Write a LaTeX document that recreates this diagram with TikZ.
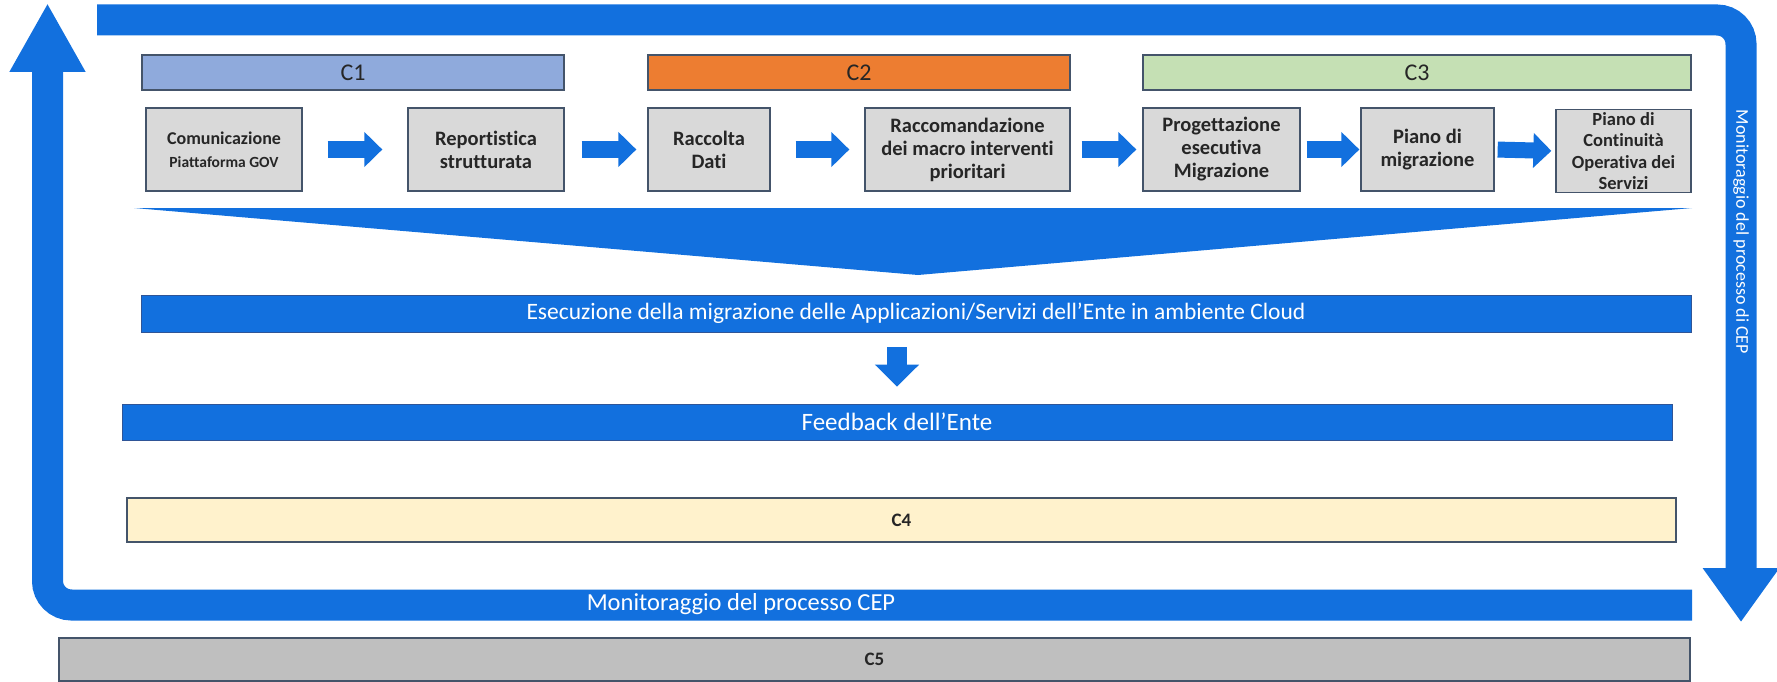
\documentclass[tikz,border=0pt]{standalone}
\usepackage{fontspec}
\setmainfont{Carlito}[Ligatures=NoCommon]
\usetikzlibrary{arrows.meta}
\definecolor{mblue}{RGB}{18,112,222}
\definecolor{mborder}{HTML}{44546A}
\definecolor{cone}{HTML}{8FAADC}
\definecolor{ctwo}{HTML}{ED7D31}
\definecolor{cthree}{HTML}{C5E0B4}
\definecolor{boxgray}{HTML}{D9D9D9}
\definecolor{cfour}{HTML}{FFF2CC}
\definecolor{cfive}{HTML}{BFBFBF}
\definecolor{bluedark}{HTML}{2F5597}
\definecolor{txt}{HTML}{262626}
\begin{document}
\begin{tikzpicture}[x=1pt,y=-1pt,
  stepbox/.style={draw=mborder, line width=1.3pt, fill=boxgray, inner sep=0pt, align=center,
    minimum height=83pt, text=txt, font=\fontsize{20.5}{23}\selectfont\bfseries},
  phasebar/.style={draw=mborder, line width=1.2pt, inner sep=0pt, minimum height=35pt,
    text=txt, font=\fontsize{24}{28}\selectfont},
  bluebar/.style={draw=bluedark, line width=0.8pt, fill=mblue, inner sep=0pt, text=white},
  flowarrow/.style={draw=mblue, line width=16pt, -{Triangle[width=34pt,length=18pt]}},
  looparrow/.style={draw=mblue, line width=31pt, rounded corners=24pt},
  graybar/.style={draw=mborder, line width=1.2pt, inner sep=0pt, text=txt,
    font=\fontsize{19}{22}\selectfont\bfseries},
]
\useasboundingbox (0,0) rectangle (1777,682);

% big monitoring loop
\draw[looparrow, -{Triangle[width=71pt,length=69pt]}] (1692,605) -- (47.5,605) -- (47.5,3);
\draw[looparrow, -{Triangle[width=73pt,length=54pt]}] (97,20) -- (1741,20) -- (1741,622);
\node[text=white, font=\fontsize{24.5}{28}\selectfont] (monb) at (741,604) {Monitoraggio del processo CEP};
\node[rotate=-90, text=white, font=\fontsize{18}{20}\selectfont] (monr) at (1741,232) {Monitoraggio del processo di CEP};

% phase bars
\node[phasebar, fill=cone, minimum width=422pt] (c1) at (353,72.5) {C1};
\node[phasebar, fill=ctwo, minimum width=422pt] (c2) at (859,72.5) {C2};
\node[phasebar, fill=cthree, minimum width=548pt] (c3) at (1417,72.5) {C3};

% steps
\node[stepbox, minimum width=156pt] (b1) at (224,149.5)
  {{\fontsize{18}{21}\selectfont Comunicazione}\\{\fontsize{15.5}{19}\selectfont Piattaforma GOV}};
\node[stepbox, minimum width=156pt] (b2) at (486,149.5) {Reportistica\\strutturata};
\node[stepbox, minimum width=122pt] (b3) at (709,149.5) {Raccolta\\Dati};
\node[stepbox, minimum width=205pt] (b4) at (967.5,149.5) {Raccomandazione\\dei macro interventi\\prioritari};
\node[stepbox, minimum width=157pt] (b5) at (1221.5,149.5) {Progettazione\\esecutiva\\Migrazione};
\node[stepbox, minimum width=133pt] (b6) at (1427.5,149.5) {Piano di\\migrazione};
\node[stepbox, minimum width=135pt, font=\fontsize{18.5}{21.5}\selectfont\bfseries] (b7) at (1623.5,151)
  {Piano di\\Continuità\\Operativa dei\\Servizi};

\draw[flowarrow, shorten <=25pt, shorten >=25pt] (b1.east) -- (b2.west);
\draw[flowarrow, shorten <=17pt, shorten >=11pt] (b2.east) -- (b3.west);
\draw[flowarrow, shorten <=25pt, shorten >=15pt] (b3.east) -- (b4.west);
\draw[flowarrow, shorten <=11pt, shorten >=6pt] (b4.east) -- (b5.west);
\draw[flowarrow, shorten <=6pt, shorten >=1pt] (b5.east) -- (b6.west);
\draw[flowarrow, shorten <=3pt, shorten >=4pt] (b6.east) -- (b7.west);

% funnel
\fill[mblue] (134,208) -- (1692,208) -- (918,275) -- cycle;

% execution and feedback
\node[bluebar, minimum width=1550pt, minimum height=37pt, font=\fontsize{23.5}{27}\selectfont] (esec) at (916,313.5)
  {Esecuzione della migrazione delle Applicazioni/Servizi dell’Ente in ambiente Cloud};
\node[bluebar, minimum width=1550pt, minimum height=36pt, font=\fontsize{25}{29}\selectfont] (fb) at (897,422)
  {Feedback dell’Ente};
\draw[draw=mblue, line width=20pt, -{Triangle[width=43pt,length=22pt]}, shorten <=15pt, shorten >=17pt]
  (esec.south -| fb.north) -- (fb.north);

% C4 and C5
\node[graybar, fill=cfour, minimum width=1549pt, minimum height=44pt] (c4) at (901.5,520) {C4};
\node[graybar, fill=cfive, minimum width=1631pt, minimum height=43pt] (c5) at (874.5,659.5) {C5};
\end{tikzpicture}
\end{document}
